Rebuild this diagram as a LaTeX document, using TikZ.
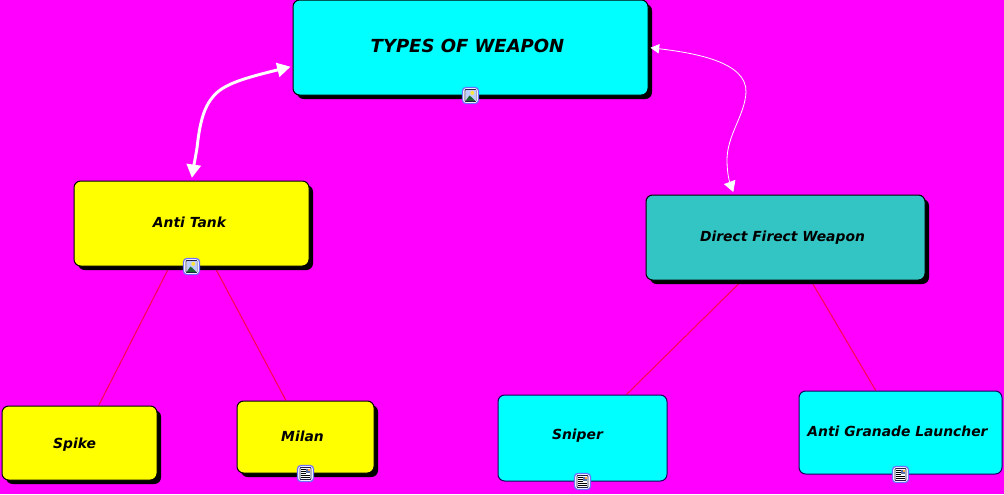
\documentclass[tikz,border=0pt]{standalone}
\usepackage{fontspec}
\setmainfont{DejaVu Sans}
\usetikzlibrary{arrows.meta,shadows,backgrounds}
\definecolor{bgm}{RGB}{255,0,255}
\definecolor{boxcyan}{RGB}{0,255,255}
\definecolor{boxyellow}{RGB}{255,255,0}
\definecolor{linkred}{RGB}{255,0,85}
\definecolor{tealbox}{RGB}{51,196,196}
\definecolor{edgeblue}{RGB}{20,0,90}
\definecolor{iconblue}{RGB}{110,110,255}
\definecolor{iconsky}{RGB}{190,205,255}
\definecolor{iconsun}{RGB}{255,230,60}
\definecolor{iconhill}{RGB}{20,110,50}
\definecolor{iconframe}{RGB}{30,30,70}
\definecolor{iconpic}{RGB}{90,110,170}
\definecolor{iconorange}{RGB}{255,170,60}
\def\px{0.75pt}
\tikzset{
  x=0.75pt,y=-0.75pt,
  base/.style={draw=black,line width=0.75pt,rounded corners=5pt,inner sep=0pt,anchor=center},
  shadowed/.style={base,drop shadow={shadow xshift=3pt,shadow yshift=-3pt,opacity=1,fill=black}},
  flat/.style={base,draw=edgeblue},
  ttext/.style={font=\bfseries\itshape\fontsize{10.4pt}{12pt}\selectfont,text=black,inner sep=0pt},
  link/.style={draw=linkred,line width=0.8pt},
  thick curve/.style={draw=white,line width=2.2pt,{Triangle[length=10pt,width=10.5pt,fill=white]}-{Triangle[length=10pt,width=10.5pt,fill=white]},shorten <=1.5pt,shorten >=2pt},
  thin curve/.style={draw=white,line width=0.6pt,{Triangle[length=6.5pt,width=7pt,fill=white]}-{Triangle[length=8pt,width=9pt,fill=white]},shorten <=1.5pt,shorten >=2pt},
  pics/iconbase/.style={code={
    \draw[draw=iconblue,fill=white,line width=0.9pt,rounded corners=2.5pt] (-8,-8) rectangle (8,8);
    \draw[draw=iconframe,fill=white,line width=0.6pt,rounded corners=0.6pt] (-5.5,-6) rectangle (5.5,6);
  }},
  pics/imgicon/.style={code={
    \pic {iconbase};
    \fill[iconsky] (-5,-5.5) rectangle (5,5.5);
    \fill[iconsun] (1.8,-2.6) circle (2);
    \fill[iconhill] (-5,5.5) -- (-1,0) -- (1.5,2) -- (5,5.5) -- cycle;
  }},
  pics/docicon/.style={code={
    \pic {iconbase};
    \fill[iconpic] (0.8,-5) rectangle (4.5,-0.8);
    \fill[iconorange] (2.8,-4.5) rectangle (4.4,-3);
    \foreach \yy in {-4.2,-2.2,-0.2} \draw[black,line width=0.7pt] (-4.5,\yy) -- (0,\yy);
    \foreach \yy in {1.8,3.8} \draw[black,line width=0.7pt] (-4.5,\yy) -- (4.5,\yy);
  }},
}
\begin{document}
\begin{tikzpicture}
\useasboundingbox (0,0) rectangle (1004,494);
\node[shadowed,fill=boxcyan,minimum width=355*\px,minimum height=95*\px,
  label={[ttext,font=\bfseries\itshape\fontsize{13.5pt}{16pt}\selectfont,xshift=-2.25pt,yshift=1.5pt]center:TYPES OF WEAPON}] (top) at (470.5,47.5) {};
\node[shadowed,fill=boxyellow,minimum width=235*\px,minimum height=85*\px,
  label={[ttext,xshift=-1.5pt,yshift=0.75pt]center:Anti Tank}] (tank) at (191.5,223.5) {};
\node[shadowed,fill=tealbox,minimum width=279*\px,minimum height=85*\px,
  label={[ttext,xshift=-2.25pt,yshift=0.2pt]center:Direct Firect Weapon}] (direct) at (785.5,237.5) {};
\node[shadowed,fill=boxyellow,minimum width=155*\px,minimum height=74*\px,
  label={[ttext,xshift=-3.75pt,yshift=-1.2pt]center:Spike}] (spike) at (79.5,443) {};
\node[shadowed,fill=boxyellow,minimum width=137*\px,minimum height=72*\px,
  label={[ttext,xshift=-2.25pt,yshift=0.75pt]center:Milan}] (milan) at (305.5,437) {};
\node[flat,fill=boxcyan,minimum width=169*\px,minimum height=86*\px,
  label={[ttext,xshift=-3.75pt,yshift=2pt]center:Sniper}] (sniper) at (582.5,438) {};
\node[flat,fill=boxcyan,minimum width=203*\px,minimum height=83*\px,
  label={[ttext,xshift=-2.25pt,yshift=0.75pt]center:Anti Granade Launcher}] (agl) at (900.5,432.5) {};

\begin{scope}[on background layer]
  \fill[bgm] (0,0) rectangle (1004,494);
  \draw[link] (tank) -- (spike);
  \draw[link] (tank) -- (milan);
  \draw[link] (direct) -- (sniper);
  \draw[link] (direct) -- (agl);
\end{scope}

\draw[thick curve] (top.186.8) .. controls (245,78) and (222,84) .. (212,98)
  .. controls (202,110) and (199,130) .. (197,148) .. controls (195,160) and (193,170) .. (tank.north);
\draw[thin curve] (top.east) .. controls (695,53) and (747,62) .. (746,92)
  .. controls (745,115) and (727,135) .. (727,160) .. controls (727,175) and (730,183) .. (direct.140.7);

\pic at (top.south) {imgicon};
\pic at (tank.south) {imgicon};
\pic at (milan.south) {docicon};
\pic at (sniper.south) {docicon};
\pic at (agl.south) {docicon};
\end{tikzpicture}
\end{document}
